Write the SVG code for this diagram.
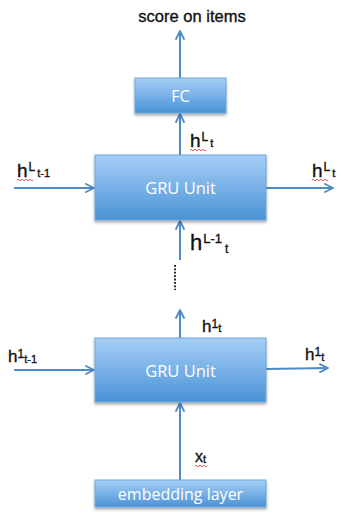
<svg xmlns="http://www.w3.org/2000/svg" width="341" height="514" viewBox="0 0 341 514">
<defs>
<linearGradient id="boxg" x1="0" y1="0" x2="0" y2="1">
<stop offset="0" stop-color="#a6cff6"/>
<stop offset="1" stop-color="#4a92d6"/>
</linearGradient>
<filter id="sh" x="-10%" y="-10%" width="120%" height="130%">
<feGaussianBlur in="SourceAlpha" stdDeviation="1.5"/>
<feOffset dx="0" dy="2" result="b"/>
<feComponentTransfer><feFuncA type="linear" slope="0.35"/></feComponentTransfer>
<feMerge><feMergeNode/><feMergeNode in="SourceGraphic"/></feMerge>
</filter>
<marker id="arr" viewBox="0 0 10 10" refX="9" refY="5" markerWidth="10" markerHeight="10" markerUnits="userSpaceOnUse" orient="auto">
<path d="M1,1 L9,5 L1,9" fill="none" stroke="#4d8ac6" stroke-width="1.8" stroke-linecap="round" stroke-linejoin="round"/>
</marker>
</defs>
<style>
.box{fill:url(#boxg);stroke:#6ea6da;stroke-width:1;filter:url(#sh)}
.bt{font-family:"Open Sans","Liberation Sans",sans-serif;fill:#ffffff;text-anchor:middle}
.ln{stroke:#4d8ac6;stroke-width:2;fill:none;marker-end:url(#arr)}
.lb{font-family:"Liberation Sans","Open Sans",sans-serif;fill:#111111;stroke:#111111;stroke-width:0.35}
.wv{stroke:#e03030;stroke-width:0.8;fill:none}
</style>

<g id="connectors">
<line class="ln" x1="180" y1="78" x2="180" y2="31"/>
<line class="ln" x1="180" y1="155" x2="180" y2="114"/>
<line class="ln" x1="14" y1="188" x2="94" y2="188"/>
<line class="ln" x1="266" y1="188" x2="333" y2="188"/>
<line class="ln" x1="180" y1="260" x2="180" y2="221"/>
<line x1="175" y1="265" x2="175" y2="290" stroke="#222" stroke-width="2" stroke-dasharray="1.8,1.6"/>
<line class="ln" x1="180" y1="338" x2="180" y2="310"/>
<line class="ln" x1="14" y1="370" x2="94" y2="370"/>
<line class="ln" x1="266" y1="369" x2="328" y2="368"/>
<line class="ln" x1="180" y1="480" x2="180" y2="403"/>
</g>

<g id="title">
<text class="lb" x="192" y="22" font-size="16.5" text-anchor="middle">score on items</text>
</g>

<g id="fc">
<rect class="box" x="135" y="78" width="91" height="35"/>
<text class="bt" x="180.5" y="102" font-size="16">FC</text>
</g>

<g id="gru-top">
<rect class="box" x="95" y="155" width="171" height="65"/>
<text class="bt" x="180.5" y="194" font-size="16.5">GRU Unit</text>
</g>

<g id="gru-bottom">
<rect class="box" x="95" y="338" width="171" height="64"/>
<text class="bt" x="180.5" y="377" font-size="16.5">GRU Unit</text>
</g>

<g id="embedding">
<rect class="box" x="95" y="480" width="171" height="27"/>
<text class="bt" x="180.5" y="500" font-size="16">embedding layer</text>
</g>

<g id="labels">
<text class="lb" x="17" y="177"><tspan font-size="19">h</tspan><tspan font-size="12" dy="-6" dx="1">L</tspan><tspan font-size="11" dy="6" dx="2">t-1</tspan></text>
<path class="wv" d="M17,180 q1,-1.5 2,0 t2,0 t2,0 t2,0 t2,0 t2,0 t2,0 t2,0"/>

<text class="lb" x="312" y="177"><tspan font-size="19">h</tspan><tspan font-size="12" dy="-6" dx="1">L</tspan><tspan font-size="11" dy="6" dx="2">t</tspan></text>
<path class="wv" d="M312,180 q1,-1.5 2,0 t2,0 t2,0 t2,0 t2,0 t2,0 t2,0 t2,0"/>

<text class="lb" x="190" y="147"><tspan font-size="19">h</tspan><tspan font-size="12" dy="-6" dx="1">L</tspan><tspan font-size="11" dy="6" dx="2">t</tspan></text>
<path class="wv" d="M190,150 q1,-1.5 2,0 t2,0 t2,0 t2,0 t2,0 t2,0 t2,0 t2,0"/>

<text class="lb" x="190" y="250"><tspan font-size="22">h</tspan><tspan font-size="13" dy="-7" dx="1">L-1</tspan><tspan font-size="12" dy="10" dx="3">t</tspan></text>

<text class="lb" x="202" y="332"><tspan font-size="17">h</tspan><tspan font-size="12" dy="-4">1</tspan><tspan font-size="11" dy="4">t</tspan></text>

<text class="lb" x="8" y="362"><tspan font-size="17">h</tspan><tspan font-size="12" dy="-4">1</tspan><tspan font-size="11" dy="5">t-1</tspan></text>

<text class="lb" x="305" y="360"><tspan font-size="17">h</tspan><tspan font-size="12" dy="-4">1</tspan><tspan font-size="11" dy="5">t</tspan></text>

<text class="lb" x="195" y="462"><tspan font-size="16">x</tspan><tspan font-size="11" dy="1">t</tspan></text>
<path class="wv" d="M195,466 q1,-1.5 2,0 t2,0 t2,0 t2,0 t2,0 t2,0"/>
</g>
</svg>
